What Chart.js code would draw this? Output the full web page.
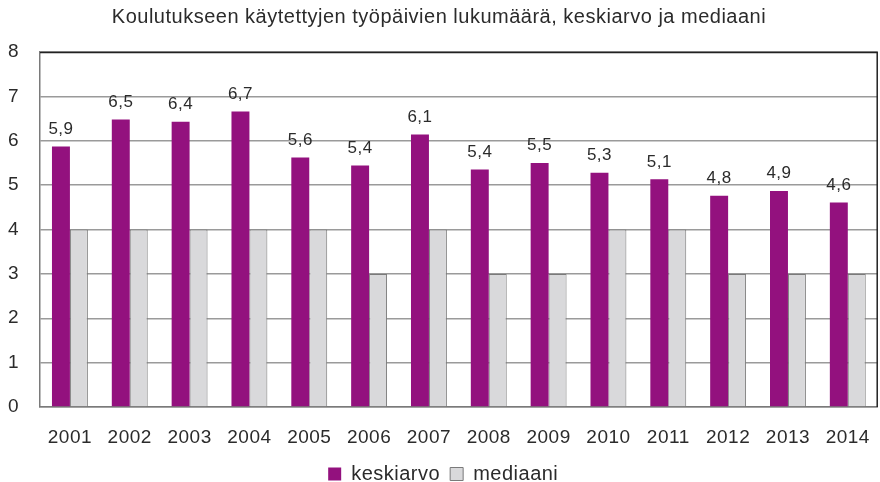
<!DOCTYPE html>
<html>
<head>
<meta charset="utf-8">
<script src="https://cdn.jsdelivr.net/npm/chart.js@4"></script>
<style>
html,body{margin:0;padding:0;background:#fff;}
#wrap{width:880px;height:482px;}
</style>
</head>
<body>
<div id="wrap"><canvas id="c" width="880" height="482"></canvas></div>
<script>
const years = ['2001','2002','2003','2004','2005','2006','2007','2008','2009','2010','2011','2012','2013','2014'];
const keskiarvo = [5.87, 6.48, 6.43, 6.66, 5.62, 5.44, 6.14, 5.35, 5.50, 5.28, 5.13, 4.76, 4.87, 4.61];
const keskiarvoLabels = ['5,9','6,5','6,4','6,7','5,6','5,4','6,1','5,4','5,5','5,3','5,1','4,8','4,9','4,6'];
const mediaani = [4, 4, 4, 4, 4, 3, 4, 3, 3, 4, 4, 3, 3, 3];
const yTicks = [0,1,2,3,4,5,6,7,8];

const FONT = '"Liberation Sans", Arial, sans-serif';
const TXT = '#2b2b2b';

const spacing = {
  id: 'spacing',
  beforeDraw(chart) { chart.ctx.letterSpacing = '0.5px'; }
};

const frame = {
  id: 'frame',
  afterDraw(chart) {
    const a = chart.chartArea, ctx = chart.ctx;
    ctx.save();
    ctx.lineWidth = 1.5;
    ctx.strokeStyle = '#222';
    ctx.beginPath();
    ctx.moveTo(a.left, a.top + 0.5);
    ctx.lineTo(a.right - 0.5, a.top + 0.5);
    ctx.lineTo(a.right - 0.5, a.bottom);
    ctx.stroke();
    ctx.restore();
  }
};

const labelsPlugin = {
  id: 'valueLabels',
  afterDatasetsDraw(chart) {
    const meta = chart.getDatasetMeta(0);
    const ctx = chart.ctx;
    ctx.save();
    ctx.font = '17px ' + FONT;
    ctx.fillStyle = TXT;
    ctx.textAlign = 'center';
    ctx.textBaseline = 'bottom';
    meta.data.forEach((el, i) => {
      ctx.fillText(keskiarvoLabels[i], el.x, el.y - 9);
    });
    ctx.restore();
  }
};

new Chart(document.getElementById('c'), {
  type: 'bar',
  data: {
    labels: years,
    datasets: [
      { label: 'keskiarvo', data: keskiarvo, backgroundColor: '#93117e', borderColor: '#93117e', borderWidth: 0 },
      { label: 'mediaani', data: mediaani, backgroundColor: '#d9d9db', borderColor: '#7a7a7a', borderWidth: 1 }
    ]
  },
  options: {
    responsive: false,
    animation: false,
    devicePixelRatio: 1,
    layout: { padding: { top: 0, right: 2, bottom: -12, left: 0 } },
    datasets: { bar: { categoryPercentage: 0.6, barPercentage: 1.0 } },
    scales: {
      x: {
        grid: { display: false },
        border: { display: true, color: '#7a7a7a', width: 1.5 },
        ticks: { font: { family: FONT, size: 19 }, color: TXT, padding: 11, maxRotation: 0 },
        afterFit(s) { s.height = 47; }
      },
      y: {
        min: 0, max: 8,
        afterBuildTicks(s) { s.ticks = yTicks.map(v => ({ value: v })); },
        grid: { color: '#9a9a9a', lineWidth: 1.5, drawTicks: false },
        border: { display: true, color: '#7a7a7a', width: 1.5 },
        ticks: { font: { family: FONT, size: 19 }, color: TXT, padding: 21 },
        afterFit(s) { s.width = 40; }
      }
    },
    plugins: {
      title: {
        display: true,
        text: 'Koulutukseen käytettyjen työpäivien lukumäärä, keskiarvo ja mediaani',
        font: { family: FONT, size: 20, weight: 'normal' },
        color: TXT,
        padding: { top: 5, bottom: 23 }
      },
      legend: {
        position: 'bottom',
        labels: {
          font: { family: FONT, size: 20 },
          color: TXT,
          boxWidth: 13,
          boxHeight: 13,
          padding: 10
        }
      },
      tooltip: { enabled: false }
    }
  },
  plugins: [spacing, frame, labelsPlugin]
});
</script>
</body>
</html>
